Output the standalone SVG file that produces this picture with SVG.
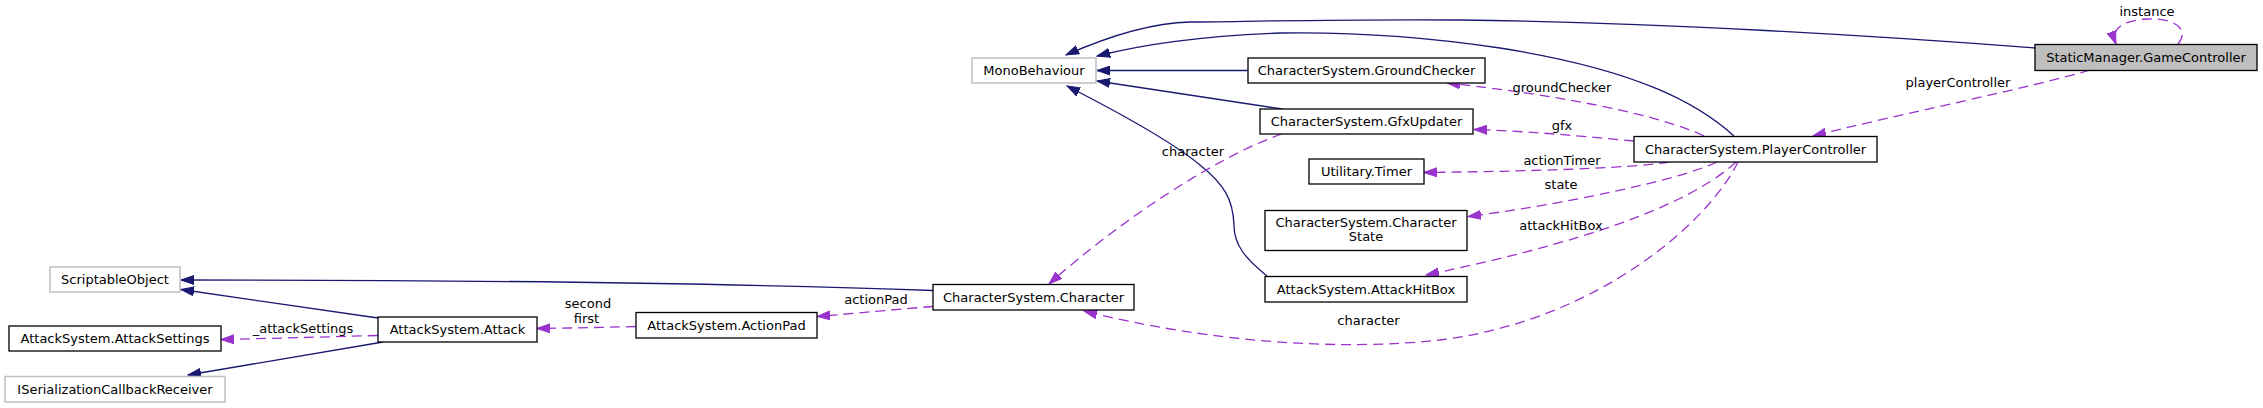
<svg xmlns="http://www.w3.org/2000/svg" width="2263" height="408" viewBox="0 0 2263 408">
<style>
  .bg { fill: #ffffff; }
  .node rect { fill: #ffffff; stroke: #000000; stroke-width: 1.3; }
  .node.ext rect { stroke: #bfbfbf; stroke-width: 1.5; }
  .node.cur rect { fill: #bfbfbf; }
  text { font-family: "DejaVu Sans", "Liberation Sans", sans-serif; font-size: 13px; fill: #000000; text-anchor: middle; }
  .inh { fill: none; stroke: #191970; stroke-width: 1.3; }
  .use { fill: none; stroke: #9a32cd; stroke-width: 1.3; stroke-dasharray: 10,6; }
</style>
<defs>
  <marker id="ah-inh" markerUnits="userSpaceOnUse" markerWidth="14" markerHeight="10" refX="13" refY="5" orient="auto">
    <path d="M0,0.5 L13,5 L0,9.5 z" fill="#191970" stroke="#191970" stroke-width="1" stroke-dasharray="none"/>
  </marker>
  <marker id="ah-use" markerUnits="userSpaceOnUse" markerWidth="14" markerHeight="10" refX="13" refY="5" orient="auto">
    <path d="M0,0.5 L13,5 L0,9.5 z" fill="#9a32cd" stroke="#9a32cd" stroke-width="1" stroke-dasharray="none"/>
  </marker>
</defs>
<rect class="bg" x="0" y="0" width="2263" height="408"/>

<g id="connectors">
  <!-- inheritance -->
  <path class="inh" marker-end="url(#ah-inh)" d="M2035,48 C1880,36 1650,22 1460,20 C1330,19 1230,22 1190,22 C1145,23 1100,40 1066,55"/>
  <path class="inh" marker-end="url(#ah-inh)" d="M1734,136 C1700,105 1640,70 1500,48 C1420,36 1340,32 1280,33 C1200,36 1140,45 1097,56"/>
  <path class="inh" marker-end="url(#ah-inh)" d="M1248,70.5 L1097,70.5"/>
  <path class="inh" marker-end="url(#ah-inh)" d="M1282,109 L1097,81"/>
  <path class="inh" marker-end="url(#ah-inh)" d="M1267,276 C1245,258 1234,245 1234,225 C1233,200 1225,185 1200,165 C1170,140 1110,108 1067,86"/>
  <path class="inh" marker-end="url(#ah-inh)" d="M933,290.5 C700,282 400,280 181,280"/>
  <path class="inh" marker-end="url(#ah-inh)" d="M378,318 L181,289.5"/>
  <path class="inh" marker-end="url(#ah-inh)" d="M383,342 L188,375"/>

  <!-- usage -->
  <path class="use" marker-end="url(#ah-use)" d="M2178,44 C2190,30 2176,18 2148,19 C2124,20 2110,28 2116,44"/>
  <path class="use" marker-end="url(#ah-use)" d="M2090,70 C2030,88 1900,114 1813,136"/>
  <path class="use" marker-end="url(#ah-use)" d="M1704,136 C1660,115 1560,95 1447,83"/>
  <path class="use" marker-end="url(#ah-use)" d="M1634,141 C1590,137 1530,131 1474,129.5"/>
  <path class="use" marker-end="url(#ah-use)" d="M1669,162 C1640,167 1560,171 1424,172.5"/>
  <path class="use" marker-end="url(#ah-use)" d="M1717,162 C1680,180 1560,205 1468,216.5"/>
  <path class="use" marker-end="url(#ah-use)" d="M1736,162 C1700,195 1620,235 1426,275"/>
  <path class="use" marker-end="url(#ah-use)" d="M1738,162 C1710,220 1600,320 1440,340 C1330,352 1200,340 1084,311"/>
  <path class="use" marker-end="url(#ah-use)" d="M1282,134 C1220,155 1120,220 1049,284"/>
  <path class="use" marker-end="url(#ah-use)" d="M933,306.5 C900,309 860,313 817,316.5"/>
  <path class="use" marker-end="url(#ah-use)" d="M636,326.5 C600,327.5 570,328 537,328.5"/>
  <path class="use" marker-end="url(#ah-use)" d="M378,335.5 C320,337 270,338.5 221,339.5"/>

  <!-- labels -->
  <text x="2147" y="16">instance</text>
  <text x="1958" y="87">playerController</text>
  <text x="1562" y="91.5">groundChecker</text>
  <text x="1562" y="130">gfx</text>
  <text x="1562" y="164.5">actionTimer</text>
  <text x="1561" y="188.5">state</text>
  <text x="1561" y="229.5">attackHitBox</text>
  <text x="1368.5" y="325">character</text>
  <text x="1193" y="156">character</text>
  <text x="876" y="303.5">actionPad</text>
  <text x="588" y="307.5">second</text>
  <text x="586.5" y="322.5">first</text>
  <text x="303" y="333">_attackSettings</text>
</g>

<g id="n-gamecontroller" class="node cur"><rect x="2035" y="44.5" width="222" height="26"/><text x="2146" y="62">StaticManager.GameController</text></g>
<g id="n-monobehaviour" class="node ext"><rect x="972" y="58" width="124" height="25"/><text x="1034" y="75">MonoBehaviour</text></g>
<g id="n-groundchecker" class="node"><rect x="1248" y="58" width="237" height="25"/><text x="1366.5" y="75">CharacterSystem.GroundChecker</text></g>
<g id="n-gfxupdater" class="node"><rect x="1260" y="109" width="213" height="25"/><text x="1366.5" y="126">CharacterSystem.GfxUpdater</text></g>
<g id="n-playercontroller" class="node"><rect x="1634" y="136.5" width="243" height="25.5"/><text x="1755.5" y="153.5">CharacterSystem.PlayerController</text></g>
<g id="n-timer" class="node"><rect x="1309" y="159" width="115" height="25"/><text x="1366.5" y="176">Utilitary.Timer</text></g>
<g id="n-characterstate" class="node"><rect x="1265" y="210.5" width="202" height="40"/><text x="1366" y="227">CharacterSystem.Character</text><text x="1366" y="241">State</text></g>
<g id="n-attackhitbox" class="node"><rect x="1265" y="276.5" width="202" height="25.5"/><text x="1366" y="293.5">AttackSystem.AttackHitBox</text></g>
<g id="n-character" class="node"><rect x="933" y="284.5" width="201" height="25.5"/><text x="1033.5" y="301.5">CharacterSystem.Character</text></g>
<g id="n-actionpad" class="node"><rect x="636" y="312.5" width="181" height="25.5"/><text x="726.5" y="329.5">AttackSystem.ActionPad</text></g>
<g id="n-attack" class="node"><rect x="378" y="317" width="159" height="25"/><text x="457.5" y="334">AttackSystem.Attack</text></g>
<g id="n-scriptableobject" class="node ext"><rect x="50" y="267" width="130" height="25"/><text x="115" y="284">ScriptableObject</text></g>
<g id="n-attacksettings" class="node"><rect x="9" y="326" width="212" height="25"/><text x="115" y="343">AttackSystem.AttackSettings</text></g>
<g id="n-iserialization" class="node ext"><rect x="5" y="376.5" width="220" height="25.5"/><text x="115" y="393.5">ISerializationCallbackReceiver</text></g>
</svg>
